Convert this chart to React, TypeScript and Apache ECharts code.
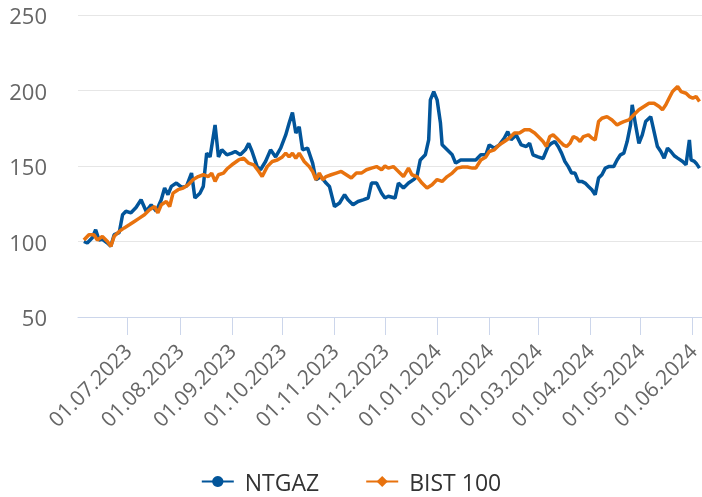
import React, { useEffect, useRef } from "react";
import * as echarts from "echarts";

const ntgazDates = [
  "2023-06-05","2023-06-07","2023-06-10","2023-06-12","2023-06-14","2023-06-16","2023-06-19","2023-06-21","2023-06-23","2023-06-26","2023-06-28","2023-06-30",
  "2023-07-03","2023-07-06","2023-07-09","2023-07-12","2023-07-15","2023-07-18","2023-07-21","2023-07-23","2023-07-25","2023-07-27","2023-07-30",
  "2023-08-02","2023-08-05","2023-08-08","2023-08-10","2023-08-13","2023-08-15","2023-08-17","2023-08-19","2023-08-22","2023-08-24","2023-08-26","2023-08-29",
  "2023-09-01","2023-09-03","2023-09-06","2023-09-09","2023-09-11","2023-09-13","2023-09-16","2023-09-18","2023-09-21","2023-09-24","2023-09-27","2023-09-30",
  "2023-10-03","2023-10-05","2023-10-07","2023-10-09","2023-10-11","2023-10-13","2023-10-16","2023-10-19","2023-10-21","2023-10-24","2023-10-27","2023-10-29",
  "2023-11-01","2023-11-04","2023-11-07","2023-11-09","2023-11-12","2023-11-15","2023-11-18","2023-11-21","2023-11-23","2023-11-26","2023-11-29",
  "2023-12-01","2023-12-03","2023-12-07","2023-12-09","2023-12-12","2023-12-15","2023-12-18","2023-12-20","2023-12-22","2023-12-25","2023-12-27","2023-12-28","2023-12-30",
  "2024-01-01","2024-01-03","2024-01-04","2024-01-07","2024-01-10","2024-01-12","2024-01-15","2024-01-18","2024-01-21","2024-01-24","2024-01-27","2024-01-30",
  "2024-02-01","2024-02-04","2024-02-07","2024-02-10","2024-02-12","2024-02-14","2024-02-17","2024-02-20","2024-02-23","2024-02-25","2024-02-27",
  "2024-03-01","2024-03-04","2024-03-07","2024-03-09","2024-03-11","2024-03-13","2024-03-15","2024-03-17","2024-03-19","2024-03-21","2024-03-23","2024-03-25","2024-03-27","2024-03-29","2024-03-31",
  "2024-04-02","2024-04-04","2024-04-06","2024-04-08","2024-04-10","2024-04-12","2024-04-15","2024-04-17","2024-04-19","2024-04-21","2024-04-23","2024-04-25","2024-04-26","2024-04-28","2024-04-30",
  "2024-05-02","2024-05-04","2024-05-07","2024-05-09","2024-05-11","2024-05-13","2024-05-15","2024-05-17","2024-05-19","2024-05-21","2024-05-23","2024-05-26","2024-05-28","2024-05-30","2024-05-31",
  "2024-06-02","2024-06-03","2024-06-05",
];
const ntgazValues = [
  100, 99, 102.5, 107.8, 101, 101.5, 99, 96.8, 104.5, 105.8, 117.7, 120,
  119, 122.5, 127.6, 120, 124.3, 120, 127.6, 135.4, 131, 136.5, 138.7,
  136, 136.5, 145.3, 128.8, 132, 136.5, 158.5, 156, 177.2, 156, 160.7, 157.4,
  158.5, 159.6, 157.4, 160.7, 165, 159.6, 149.6, 147.5, 153, 160.7, 156, 161.8,
  170.6, 178.3, 185.4, 171.8, 176, 160.7, 161.8, 151.9, 140.9, 143, 138.7, 136.5,
  123.2, 125.5, 131, 127.6, 124.3, 126.5, 127.6, 128.8, 138.7, 138.7, 132,
  128.8, 130, 128.8, 138.7, 135.4, 138.7, 141, 143, 154, 157.4, 167.3, 193.8, 199.3,
  193.8, 178.4, 164, 160.7, 157.4, 151.9, 154, 154, 154, 154, 157.4, 157.4,
  164, 161.8, 164, 168.5, 172.8, 167.3, 170.6, 164, 162.9, 165, 157.4,
  156, 155, 162.9, 165, 166.2, 162.9, 158.5, 153, 149.6, 145.3, 145.3, 139.8, 139.8, 138.7, 136.5,
  134.3, 131, 142, 144.2, 148.6, 149.6, 149.6, 154, 157.4, 158.5, 166.2, 177.2, 190.5, 177.2, 165,
  170.6, 179.4, 182.7, 172.8, 162.9, 159.6, 155.2, 161.8, 159.6, 156.8, 155.2, 153, 150.8, 167.3, 154,
  153, 151.9, 148.6,
];

const bistDates = [
  "2023-06-05","2023-06-08","2023-06-11","2023-06-13","2023-06-16","2023-06-19","2023-06-21","2023-06-23","2023-06-26","2023-06-29",
  "2023-07-02","2023-07-05","2023-07-08","2023-07-11","2023-07-14","2023-07-17","2023-07-19","2023-07-21","2023-07-24","2023-07-26","2023-07-28","2023-07-31",
  "2023-08-03","2023-08-06","2023-08-09","2023-08-12","2023-08-15","2023-08-18","2023-08-20","2023-08-22","2023-08-24","2023-08-27","2023-08-29",
  "2023-09-01","2023-09-05","2023-09-08","2023-09-11","2023-09-14","2023-09-17","2023-09-19","2023-09-22","2023-09-25","2023-09-28",
  "2023-10-01","2023-10-03","2023-10-05","2023-10-07","2023-10-09","2023-10-11","2023-10-14","2023-10-17","2023-10-19","2023-10-21","2023-10-23","2023-10-25","2023-10-27","2023-10-30",
  "2023-11-02","2023-11-05","2023-11-08","2023-11-11","2023-11-14","2023-11-17","2023-11-20","2023-11-23","2023-11-26","2023-11-29",
  "2023-12-01","2023-12-03","2023-12-06","2023-12-09","2023-12-12","2023-12-15","2023-12-17","2023-12-20","2023-12-23","2023-12-26","2023-12-29",
  "2024-01-01","2024-01-04","2024-01-07","2024-01-10","2024-01-13","2024-01-16","2024-01-19","2024-01-22","2024-01-24","2024-01-27","2024-01-30",
  "2024-02-01","2024-02-04","2024-02-07","2024-02-10","2024-02-13","2024-02-16","2024-02-19","2024-02-22","2024-02-25","2024-02-28",
  "2024-03-02","2024-03-04","2024-03-06","2024-03-08","2024-03-10","2024-03-12","2024-03-14","2024-03-16","2024-03-18","2024-03-20","2024-03-22","2024-03-24","2024-03-26","2024-03-28","2024-03-31",
  "2024-04-02","2024-04-04","2024-04-06","2024-04-08","2024-04-11","2024-04-14","2024-04-17","2024-04-19","2024-04-21","2024-04-24","2024-04-27","2024-04-30",
  "2024-05-03","2024-05-06","2024-05-09","2024-05-12","2024-05-14","2024-05-16","2024-05-18","2024-05-20","2024-05-23","2024-05-25","2024-05-28","2024-05-30",
  "2024-06-01","2024-06-03","2024-06-05",
];
const bistValues = [
  101, 104.5, 104.5, 101, 103.4, 100, 96.8, 103.4, 106.7, 109,
  111.1, 113.3, 115.5, 117.7, 121, 123.2, 119, 124.3, 126.5, 123.2, 132, 134.3,
  135.4, 137.6, 141, 143, 144.2, 143, 145.3, 139.8, 144.2, 145.3, 148,
  150.8, 154, 155.2, 151.9, 150.8, 146.4, 143, 149.6, 153, 154,
  156, 158.5, 156, 158.5, 155.2, 158.5, 153, 149.6, 146.4, 140.9, 145.3, 140.9, 143, 144.2,
  145.3, 146.4, 144.2, 142, 145.3, 145.3, 147.5, 148.6, 149.6, 147.5,
  150, 148.6, 149.6, 146.4, 143, 148.6, 144.2, 143, 138.7, 135.4, 137.6,
  141, 139.8, 143, 145.3, 148.6, 149.3, 149.3, 148.6, 148.6, 154, 156,
  159.6, 160.7, 164, 166.2, 168.5, 171.8, 171.8, 174, 174, 171.8,
  168.5, 166.2, 162.9, 169.5, 170.6, 168.5, 166.2, 164, 162.9, 165, 169.5, 168.5, 166.2, 169.5, 170.6,
  168.5, 167.3, 179.4, 181.6, 182.7, 180.5, 177.2, 178.4, 179.4, 180.5, 183.9, 187.2,
  189.4, 191.6, 191.6, 189.4, 187.2, 190.5, 195, 199.3, 202.6, 199.3, 198.2, 196,
  195, 196, 192.7,
];

const monthTicks = [
  "2023-07-01","2023-08-01","2023-09-01","2023-10-01","2023-11-01","2023-12-01",
  "2024-01-01","2024-02-01","2024-03-01","2024-04-01","2024-05-01","2024-06-01",
];
const yTicks = [50, 100, 150, 200, 250];

const FONT = "'Open Sans', sans-serif";

function parseLocal(s: string): number {
  const [y, m, d] = s.split("-").map(Number);
  return new Date(y, m - 1, d).getTime();
}
function fmt(v: number): string {
  const d = new Date(v);
  const p = (n: number) => (n < 10 ? "0" + n : "" + n);
  return p(d.getDate()) + "." + p(d.getMonth() + 1) + "." + d.getFullYear();
}

export default function App() {
  const ref = useRef<HTMLDivElement>(null);
  useEffect(() => {
    document.body.style.margin = "0";
    const chart = echarts.init(ref.current!, undefined, { renderer: "svg" });
    const tickVals = monthTicks.map(parseLocal);
    chart.setOption({
      animation: false,
      textStyle: { fontFamily: FONT },
      grid: { left: 78, right: 0, top: 15, bottom: 180, containLabel: false, outerBoundsMode: "none" },
      xAxis: {
        type: "value",
        min: new Date(2023, 5, 1, 12).getTime(),
        max: new Date(2024, 5, 6, 12).getTime(),
        axisLine: { lineStyle: { color: "#ccd6eb", width: 1 } },
        axisTick: { show: true, length: 18, customValues: tickVals, lineStyle: { color: "#ccd6eb", width: 1 } },
        axisLabel: {
          customValues: tickVals,
          rotate: 45,
          margin: 30,
          fontSize: 21,
          color: "#666666",
          fontFamily: FONT,
          formatter: (v: number) => fmt(v),
        },
        splitLine: { show: false },
      },
      yAxis: {
        type: "value",
        min: yTicks[0],
        max: yTicks[yTicks.length - 1],
        interval: 50,
        axisLine: { show: false },
        axisTick: { show: false },
        axisLabel: { fontSize: 22, color: "#666666", margin: 31, fontFamily: FONT },
        splitLine: { lineStyle: { color: "#e6e6e6", width: 1 } },
      },
      legend: {
        left: "center",
        top: 470,
        padding: 0,
        itemWidth: 32,
        itemHeight: 14,
        itemGap: 46,
        textStyle: { fontSize: 23, color: "#333333", fontFamily: FONT, padding: [0, 0, 0, 6] },
        data: ["NTGAZ", "BIST 100"],
      },
      series: [
        {
          name: "NTGAZ",
          type: "line",
          symbol: "circle",
          showSymbol: false,
          color: "#02559a",
          lineStyle: { width: 3.5, color: "#02559a" },
          data: ntgazDates.map((d, i) => [parseLocal(d), ntgazValues[i]]),
        },
        {
          name: "BIST 100",
          type: "line",
          symbol: "diamond",
          showSymbol: false,
          color: "#e8720e",
          lineStyle: { width: 3.5, color: "#e8720e" },
          data: bistDates.map((d, i) => [parseLocal(d), bistValues[i]]),
        },
      ],
    });
    return () => chart.dispose();
  }, []);
  return <div ref={ref} style={{ position: "fixed", left: 0, top: 0, width: 702, height: 497 }} />;
}
